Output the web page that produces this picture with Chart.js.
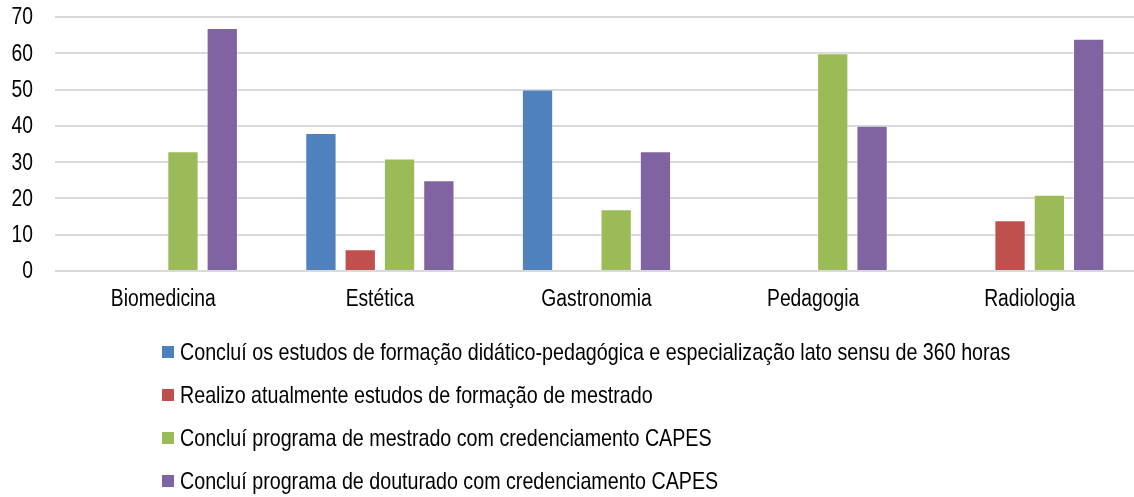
<!DOCTYPE html>
<html>
<head>
<meta charset="utf-8">
<script src="https://cdn.jsdelivr.net/npm/chart.js@4"></script>
<style>
html,body{margin:0;padding:0;background:#fff;overflow:hidden;}
#wrap{width:1134px;height:497px;position:relative;overflow:hidden;}
</style>
</head>
<body>
<div id="wrap"><canvas id="c" width="1140" height="497"></canvas></div>
<script>
const categories = ["Biomedicina", "Estética", "Gastronomia", "Pedagogia", "Radiologia"];
const seriesNames = [
  "Concluí os estudos de formação didático-pedagógica e especialização lato sensu de 360 horas",
  "Realizo atualmente estudos de formação de mestrado",
  "Concluí programa de mestrado com credenciamento CAPES",
  "Concluí programa de douturado com credenciamento CAPES"
];
const especializacao = [0, 38, 50, 0, 0];
const mestradoAtual = [0, 6, 0, 0, 14];
const mestradoConcluido = [33, 31, 17, 60, 21];
const doutoradoConcluido = [67, 25, 33, 40, 64];
const yTicks = [0, 10, 20, 30, 40, 50, 60, 70];
const colors = ["#4F81BD", "#C0504D", "#9BBB59", "#8064A2"];

const FONT = "'Liberation Sans', Arial, sans-serif";
const SQUEEZE = 0.82; // condensed look of the reference text

function drawCondensed(ctx, text, x, y, size, align) {
  ctx.save();
  ctx.font = size + "px " + FONT;
  ctx.textBaseline = 'middle';
  ctx.textAlign = align;
  ctx.fillStyle = '#000';
  ctx.translate(x, y);
  ctx.scale(SQUEEZE, 1);
  ctx.fillText(text, 0, 0);
  ctx.restore();
}

const textPlugin = {
  id: 'condensedText',
  afterDraw(chart) {
    const ctx = chart.ctx;
    const ys = chart.scales.y, xs = chart.scales.x;
    ys.ticks.forEach(t => {
      drawCondensed(ctx, String(t.value), 33, ys.getPixelForValue(t.value) + 1, 23.5, 'right');
    });
    chart.data.labels.forEach((lab, i) => {
      drawCondensed(ctx, lab, xs.getPixelForTick(i), 300, 23.5, 'center');
    });
    const rows = [352, 395, 438, 481];
    chart.data.datasets.forEach((ds, i) => {
      const y = rows[i];
      ctx.fillStyle = ds.backgroundColor;
      ctx.fillRect(162, y - 6, 12, 12);
      drawCondensed(ctx, ds.label, 180, y + 1, 24, 'left');
    });
  }
};

const data = [especializacao, mestradoAtual, mestradoConcluido, doutoradoConcluido];

new Chart(document.getElementById('c'), {
  type: 'bar',
  data: {
    labels: categories,
    datasets: data.map((d, i) => ({
      label: seriesNames[i],
      data: d,
      backgroundColor: colors[i],
      borderColor: 'rgba(255,255,255,0.35)',
      borderWidth: 1,
      barPercentage: 0.796,
      categoryPercentage: 0.726
    }))
  },
  options: {
    responsive: false,
    animation: false,
    layout: { padding: { top: 17, right: 2, bottom: 176, left: 0 } },
    plugins: { legend: { display: false }, tooltip: { enabled: false } },
    scales: {
      x: {
        grid: { display: false },
        border: { display: false },
        ticks: { display: false },
        afterFit(s) { s.height = 50; }
      },
      y: {
        min: 0, max: 70,
        afterBuildTicks(s) { s.ticks = yTicks.map(v => ({ value: v })); },
        grid: { color: '#d9d9d9', lineWidth: 2, drawTicks: false },
        border: { display: false },
        ticks: { display: false },
        afterFit(s) { s.width = 55; s.paddingTop = 0; s.paddingBottom = 0; }
      }
    }
  },
  plugins: [textPlugin]
});
</script>
</body>
</html>
